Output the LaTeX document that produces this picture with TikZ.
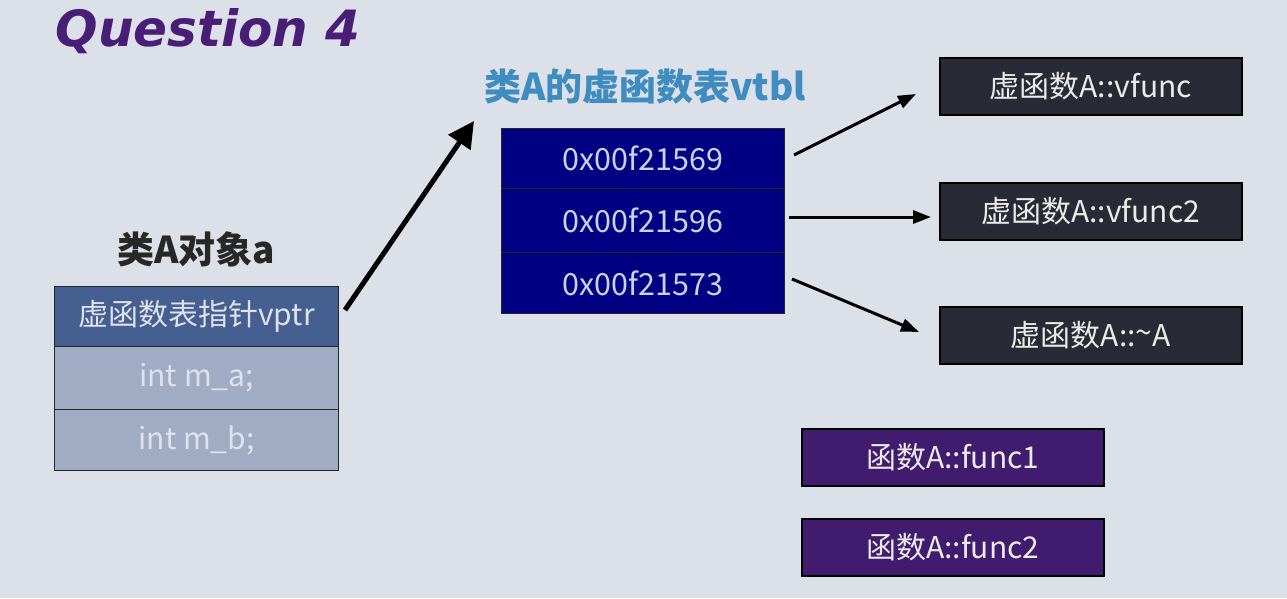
\documentclass[tikz,border=0pt]{standalone}
\usepackage{fontspec}
\setmainfont{Noto Sans CJK SC}
\newfontfamily\titlefont{DejaVu Sans}
\usetikzlibrary{arrows.meta}
\definecolor{bgc}{RGB}{220,224,232}
\definecolor{titlec}{RGB}{72,30,118}
\definecolor{vptrc}{RGB}{70,95,145}
\definecolor{memc}{RGB}{160,172,196}
\definecolor{memtext}{RGB}{222,226,236}
\definecolor{navyc}{RGB}{0,0,130}
\definecolor{navytext}{RGB}{200,210,232}
\definecolor{darkc}{RGB}{40,42,54}
\definecolor{purplec}{RGB}{65,28,110}
\definecolor{bluelab}{RGB}{62,140,192}
\definecolor{blacklab}{RGB}{40,40,40}
\tikzset{
  cell/.style={draw=black!85, line width=1.2pt, minimum width=284pt, inner sep=0pt, font=\fontsize{30}{34}\selectfont},
  vcell/.style={draw=black!85, line width=1.2pt, fill=navyc, text=navytext, minimum width=283pt, inner sep=0pt, font=\fontsize{30.5}{34}\selectfont},
  fbox/.style={draw=black, line width=1.5pt, fill=darkc, text=white!92!black, minimum width=302pt, minimum height=57pt, inner sep=0pt, font=\fontsize{30}{34}\selectfont},
  pbox/.style={draw=black, line width=1.5pt, fill=purplec, text=white!92!black, minimum width=302pt, minimum height=57pt, inner sep=0pt, font=\fontsize{30}{34}\selectfont},
  bigarrow/.style={line width=5pt, -{Triangle[length=26pt,width=26pt]}},
  farrow/.style={line width=3pt, -{Triangle[length=18pt,width=13pt]}},
  lab/.style={font=\fontsize{37}{40}\selectfont\bfseries}
}
\begin{document}
\begin{tikzpicture}[x=1pt,y=-1pt]
\useasboundingbox[fill=bgc] (0,0) rectangle (1287,598);
\node[text=titlec, anchor=west, font=\titlefont\fontsize{50}{56}\selectfont\bfseries\itshape] (title) at (52,31) {Question 4};
% object a
\node[lab, text=blacklab] (objlab) at (196,249) {类A对象a};
\node[cell, fill=vptrc, text=memtext, minimum height=60pt, anchor=north west] (vptr) at (54,286) {虚函数表指针vptr};
\node[cell, fill=memc, text=memtext, minimum height=63pt, anchor=north west] (ma) at (54,346) {int m\_a;};
\node[cell, fill=memc, text=memtext, minimum height=61pt, anchor=north west] (mb) at (54,409) {int m\_b;};
% vtbl
\node[lab, text=bluelab] (vtlab) at (645,87) {类A的虚函数表vtbl};
\node[vcell, minimum height=60pt, anchor=north west] (v1) at (501,128) {0x00f21569};
\node[vcell, minimum height=64pt, anchor=north west] (v2) at (501,188) {0x00f21596};
\node[vcell, minimum height=61pt, anchor=north west] (v3) at (501,252) {0x00f21573};
% function boxes
\node[fbox, anchor=north west] (f1) at (939,57) {虚函数A::vfunc};
\node[fbox, anchor=north west] (f2) at (939,182) {虚函数A::vfunc2};
\node[fbox, anchor=north west] (f3) at (939,306) {虚函数A::\raisebox{0.1em}{\textasciitilde}A};
\node[pbox, anchor=north west] (p1) at (801,428) {函数A::func1};
\node[pbox, anchor=north west] (p2) at (801,518) {函数A::func2};
% arrows
\coordinate (a0s) at (345,310);
\coordinate (a0e) at (474,121);
\draw[bigarrow] (a0s) -- (a0e);
\coordinate (a1s) at (794,155);
\coordinate (a1e) at (916,94);
\draw[farrow] (a1s) -- (a1e);
\coordinate (a2s) at (789,217);
\coordinate (a2e) at (931,217);
\draw[farrow] (a2s) -- (a2e);
\coordinate (a3s) at (792,279);
\coordinate (a3e) at (919,332);
\draw[farrow] (a3s) -- (a3e);
\end{tikzpicture}
\end{document}
